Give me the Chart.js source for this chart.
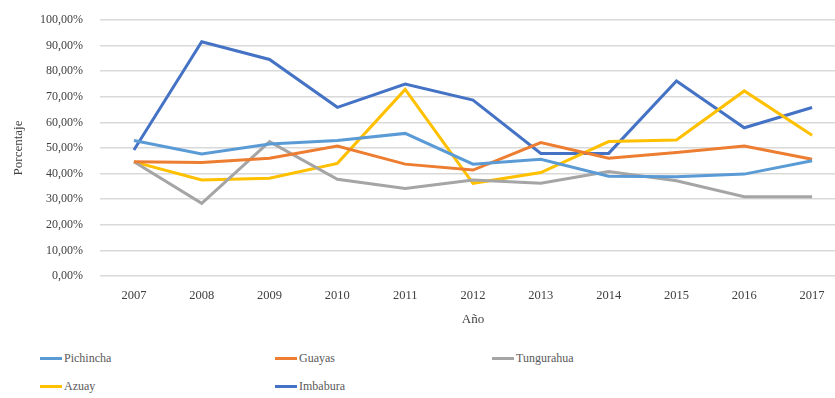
<!DOCTYPE html>
<html>
<head>
<meta charset="utf-8">
<script src="https://cdn.jsdelivr.net/npm/chart.js@4/dist/chart.umd.min.js"></script>
<style>
  html, body { margin: 0; padding: 0; background: #fff; overflow: hidden; width: 835px; height: 398px; }
  #wrap { position: absolute; left: 0; top: 0; width: 852px; height: 335px; }
  #legend { position: absolute; left: 0; top: 346px; width: 835px; height: 52px;
            font-family: "Liberation Serif", serif; font-size: 12px; color: #595959; }
  .item { position: absolute; display: flex; align-items: center; height: 16px; }
  .item i { display: inline-block; width: 22px; height: 3px; margin-right: 2px; }
</style>
</head>
<body>
<div id="wrap"><canvas id="c"></canvas></div>
<div id="legend"></div>
<script>
// Years on the category axis
const years = ['2007','2008','2009','2010','2011','2012','2013','2014','2015','2016','2017'];

// Share per province (fraction of 1)
const pichincha  = [0.529, 0.477, 0.516, 0.529, 0.557, 0.437, 0.456, 0.390, 0.388, 0.398, 0.450];
const guayas     = [0.446, 0.443, 0.460, 0.508, 0.437, 0.414, 0.521, 0.460, 0.482, 0.508, 0.456];
const tungurahua = [0.446, 0.284, 0.525, 0.378, 0.342, 0.375, 0.362, 0.408, 0.372, 0.310, 0.310];
const azuay      = [0.446, 0.375, 0.382, 0.440, 0.729, 0.362, 0.404, 0.525, 0.531, 0.723, 0.550];
const imbabura   = [0.492, 0.915, 0.846, 0.659, 0.750, 0.687, 0.479, 0.479, 0.762, 0.579, 0.658];

// Y axis ticks from 0 % to 100 %
const yTicks = [0, 0.1, 0.2, 0.3, 0.4, 0.5, 0.6, 0.7, 0.8, 0.9, 1.0];

const series = [
  { label: 'Pichincha',  data: pichincha,  color: '#5b9bd5' },
  { label: 'Guayas',     data: guayas,     color: '#ed7d31' },
  { label: 'Tungurahua', data: tungurahua, color: '#a5a5a5' },
  { label: 'Azuay',      data: azuay,      color: '#ffc000' },
  { label: 'Imbabura',   data: imbabura,   color: '#4472c4' }
];

const fmtPct = v => (v * 100).toFixed(2).replace('.', ',') + '%';
const serif = '"Liberation Serif", "Times New Roman", serif';

const chart = new Chart(document.getElementById('c'), {
  type: 'line',
  data: {
    labels: years,
    datasets: series.map(s => ({
      label: s.label,
      data: s.data,
      borderColor: s.color,
      backgroundColor: s.color,
      borderWidth: 3,
      pointRadius: 0,
      tension: 0,
      fill: false
    }))
  },
  options: {
    responsive: true,
    maintainAspectRatio: false,
    animation: false,
    layout: { padding: { left: 11, top: 20, right: 6, bottom: 8 } },
    plugins: { legend: { display: false }, tooltip: { enabled: false } },
    scales: {
      x: {
        type: 'category',
        offset: true,
        grid: { display: false },
        border: { display: false },
        afterFit: axis => { axis.height = 51; },
        ticks: { color: '#404040', font: { family: serif, size: 12.5 }, padding: 4, maxRotation: 0 },
        title: { display: true, text: 'Año', color: '#404040', font: { family: serif, size: 13 }, padding: { top: 0, bottom: 0 } }
      },
      y: {
        min: 0,
        max: 1,
        afterBuildTicks: axis => { axis.ticks = yTicks.map(v => ({ value: v })); },
        afterFit: axis => { axis.width = 89; axis.paddingTop = 0; axis.paddingBottom = 0; },
        grid: { color: '#d9d9d9', lineWidth: 1.5, drawTicks: false },
        border: { display: false },
        ticks: { color: '#404040', font: { family: serif, size: 12 }, padding: 17, callback: v => fmtPct(v) },
        title: { display: true, text: 'Porcentaje', color: '#404040', font: { family: serif, size: 13 }, padding: { top: 0, bottom: 0 } }
      }
    }
  }
});

// Legend laid out in three columns, two rows
const legendPos = [[40, 4], [275, 4], [492, 4], [40, 32], [275, 32]];
const legendEl = document.getElementById('legend');
chart.data.datasets.forEach((ds, i) => {
  const item = document.createElement('div');
  item.className = 'item';
  item.style.left = legendPos[i][0] + 'px';
  item.style.top = legendPos[i][1] + 'px';
  const sw = document.createElement('i');
  sw.style.background = ds.borderColor;
  item.appendChild(sw);
  item.appendChild(document.createTextNode(ds.label));
  legendEl.appendChild(item);
});
</script>
</body>
</html>
